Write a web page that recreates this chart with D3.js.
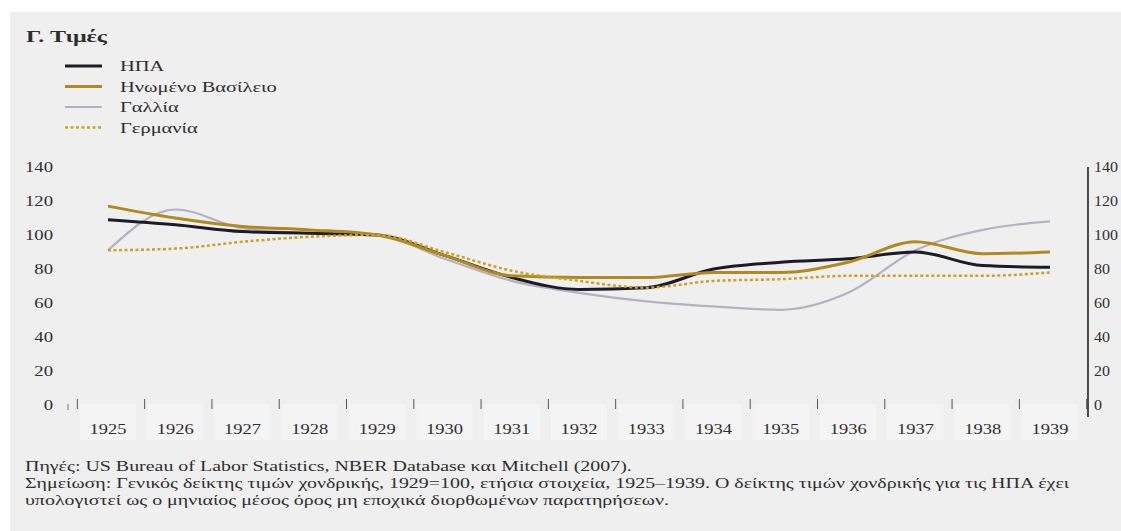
<!DOCTYPE html>
<html><head><meta charset="utf-8">
<script src="https://cdn.jsdelivr.net/npm/d3@7"></script>
<style>
html,body{margin:0;padding:0;background:#fff;}
svg{display:block;}
</style></head>
<body><svg id="c" width="1121" height="531"></svg>
<script>
const years = [1925,1926,1927,1928,1929,1930,1931,1932,1933,1934,1935,1936,1937,1938,1939];
const usa     = [109,106,102,101,100,88,75,68,69,80,84,86,90,82,81];
const uk      = [117,110,105,103,100,88,76,75,75,78,78,84,96,89,90];
const france  = [91,115,104,101,100,86,73,66,61,58,56,66,91,103,108];
const germany = [91,92,96,99,100,90,79,73,69,73,74,76,76,76,78];
const yTicks = [0,20,40,60,80,100,120,140];
const seriesNames = ["ΗΠΑ","Ηνωμένο Βασίλειο","Γαλλία","Γερμανία"];
const title = "Γ. Τιμές";
const footer = [
 "Πηγές: US Bureau of Labor Statistics, NBER Database και Mitchell (2007).",
 "Σημείωση: Γενικός δείκτης τιμών χονδρικής, 1929=100, ετήσια στοιχεία, 1925–1939. Ο δείκτης τιμών χονδρικής για τις ΗΠΑ έχει",
 "υπολογιστεί ως ο μηνιαίος μέσος όρος μη εποχικά διορθωμένων παρατηρήσεων."
];
const FONT = "'Liberation Serif','Times New Roman','DejaVu Serif',serif";
const txt = "#2e2e2e";

const svg = d3.select("#c").attr("font-family",FONT);
svg.append("rect").attr("x",10).attr("y",12).attr("width",1111).attr("height",519).attr("fill","#efefef");

function measure(str,size,weight){
  const t = svg.append("text").attr("font-size",size).attr("font-weight",weight||"normal").attr("font-family",FONT).text(str);
  const w = t.node().getComputedTextLength(); t.remove(); return w;
}
function addText(g,x,y,str,size,sx,anchor,weight){
  return g.append("text").attr("transform",`translate(${x},${y}) scale(${sx},1)`)
    .attr("font-size",size).attr("font-weight",weight||"normal").attr("fill",txt)
    .attr("font-family",FONT).attr("text-anchor",anchor||"start").text(str);
}

const x = d3.scalePoint().domain(years).range([108,1050]);
const y = d3.scaleLinear().domain([0,140]).range([405,167]);
const step = x.step();

const sxTitle = 81/measure(title,16,"bold");
addText(svg,26,42,title,16,sxTitle,"start","bold");

const styles = [
 {color:"#1c1c28", w:3, dash:null},
 {color:"#b08a1e", w:3, dash:null},
 {color:"#b6b0c2", w:2.2, dash:null},
 {color:"#c9a227", w:2.5, dash:"3,2.5"}
];
const data = [usa, uk, france, germany];

const sxLeg = 157/measure(seriesNames[1],15);
seriesNames.forEach((n,i)=>{
  const ly = 66 + i*20.5;
  svg.append("line").attr("x1",65).attr("x2",102).attr("y1",ly).attr("y2",ly)
    .attr("stroke",styles[i].color).attr("stroke-width",styles[i].w)
    .attr("stroke-dasharray",styles[i].dash);
  addText(svg,120,ly+5,n,15,sxLeg);
});

const sxNum = 28/measure("140",15);
yTicks.forEach(d=>addText(svg,53,y(d)+5,d,15,sxNum,"end"));
svg.append("line").attr("x1",1088).attr("x2",1088).attr("y1",167).attr("y2",417).attr("stroke","#222").attr("stroke-width",1.6);
const sxNumR = 24/measure("140",15);
yTicks.forEach(d=>addText(svg,1094,y(d)+5,d,15,sxNumR,"start"));

const xg = svg.append("g");
xg.selectAll("rect").data(years).join("rect")
  .attr("x",d=>x(d)-28).attr("y",404).attr("width",56).attr("height",36).attr("fill","#f4f4f4");
const sxYear = 37/measure("1925",15);
years.forEach(d=>addText(xg,x(d),434,d,15,sxYear,"middle"));
const tickPos = [x(years[0]) - step/2].concat(years.map(d=>x(d)+step/2));
xg.selectAll("line").data(tickPos).join("line")
  .attr("x1",d=>d+3).attr("x2",d=>d+3).attr("y1",399).attr("y2",409).attr("stroke","#555").attr("stroke-width",1);
svg.append("line").attr("x1",68).attr("x2",68).attr("y1",404).attr("y2",410).attr("stroke","#777");

const line = d3.line().x((d,i)=>x(years[i])).y(d=>y(d)).curve(d3.curveMonotoneX);
[2,0,1,3].forEach(i=>{
  svg.append("path").attr("d",line(data[i])).attr("fill","none")
    .attr("stroke",styles[i].color).attr("stroke-width",styles[i].w)
    .attr("stroke-dasharray",styles[i].dash).attr("stroke-linejoin","round");
});

const sxFoot = 607/measure(footer[0],14);
footer.forEach((t,i)=>addText(svg,25,471 + i*17,t,14,sxFoot));
</script></body></html>
